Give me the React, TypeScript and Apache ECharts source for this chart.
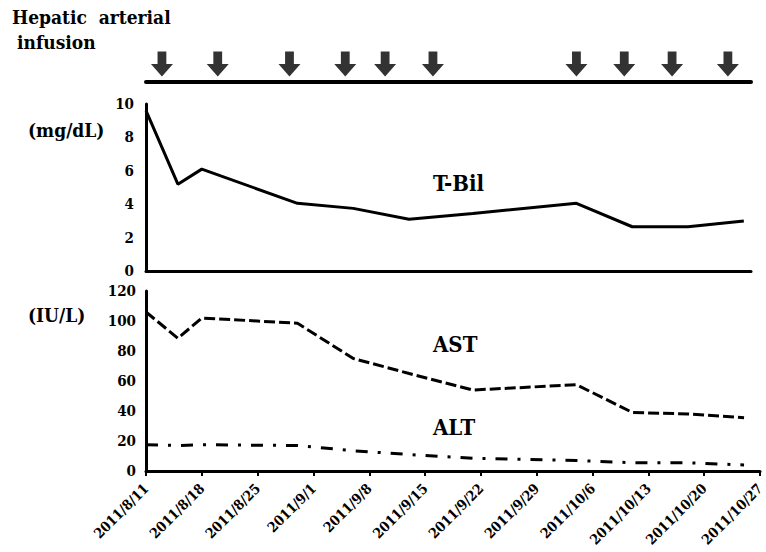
import React, { useEffect, useRef } from "react";
import * as echarts from "echarts";

// ---- data ----
const startDate = "2011/8/11";
const tickLabels = [
  "2011/8/11", "2011/8/18", "2011/8/25", "2011/9/1", "2011/9/8", "2011/9/15",
  "2011/9/22", "2011/9/29", "2011/10/6", "2011/10/13", "2011/10/20", "2011/10/27",
];
const measureDates = [
  "2011/8/11", "2011/8/15", "2011/8/18", "2011/8/30", "2011/9/6", "2011/9/13",
  "2011/9/21", "2011/10/4", "2011/10/11", "2011/10/18", "2011/10/25",
];
const tBil = [9.6, 5.2, 6.1, 4.05, 3.75, 3.1, 3.45, 4.05, 2.65, 2.65, 3.0];
const ast = [106, 88.5, 102, 98.5, 75, 65, 54, 57.5, 39, 38, 35.5];
const alt = [17.5, 17, 17.5, 17, 13.5, 11, 8.5, 7, 5.5, 5.5, 4];
const infusionDates = [
  "2011/8/13", "2011/8/20", "2011/8/29", "2011/9/5", "2011/9/10", "2011/9/16",
  "2011/10/4", "2011/10/10", "2011/10/16", "2011/10/23",
];

function dayOf(s: string): number {
  const [y, m, d] = s.split("/").map(Number);
  const [y0, m0, d0] = startDate.split("/").map(Number);
  return Math.round((Date.UTC(y, m - 1, d) - Date.UTC(y0, m0 - 1, d0)) / 86400000);
}

const FONT = "DejaVu Serif Condensed";

export default function App() {
  const ref = useRef<HTMLDivElement>(null);
  useEffect(() => {
    if (!ref.current) return;
    const chart = echarts.init(ref.current, undefined, { renderer: "svg" });
    const pairs = (vals: number[]) => measureDates.map((d, i) => [dayOf(d), vals[i]]);
    const black = "#000";
    const labelStyle = { color: black, fontFamily: FONT, fontWeight: "bold" as const, fontSize: 15 };
    const topMax = 75.9;
    const txt = (text: string, left: number, top: number, size: number) => ({
      type: "text", left, top,
      style: { text, fill: black, fontFamily: FONT, fontWeight: "bold", fontSize: size },
    });
    chart.setOption({
      animation: false,
      backgroundColor: "#fff",
      grid: [
        { left: 146, top: 104, width: 605, height: 167, outerBoundsMode: "none", containLabel: false },
        { left: 146, top: 291, width: 614, height: 180, outerBoundsMode: "none", containLabel: false },
        { left: 146, top: 46, width: 605, height: 36, outerBoundsMode: "none", containLabel: false },
      ],
      xAxis: [
        {
          gridIndex: 0, type: "value", min: 0, max: topMax,
          axisLine: { show: true, lineStyle: { color: black, width: 3 } },
          axisTick: { show: false }, axisLabel: { show: false }, splitLine: { show: false },
        },
        {
          gridIndex: 1, type: "value", min: 0, max: 77, interval: 7,
          axisLine: { show: true, lineStyle: { color: black, width: 3 } },
          axisTick: { show: true, length: 5, lineStyle: { color: black, width: 2 } },
          axisLabel: {
            ...labelStyle, fontSize: 14, rotate: 45, margin: 15,
            formatter: (v: number) => tickLabels[Math.round(v / 7)] ?? "",
          },
          splitLine: { show: false },
        },
        {
          gridIndex: 2, type: "value", min: 0, max: topMax,
          axisLine: { show: true, lineStyle: { color: black, width: 4 } },
          axisTick: { show: false }, axisLabel: { show: false }, splitLine: { show: false },
        },
      ],
      yAxis: [
        {
          gridIndex: 0, type: "value", min: 0, max: 10, interval: 2,
          axisLine: { show: true, lineStyle: { color: black, width: 3 } },
          axisTick: { show: false }, splitLine: { show: false },
          axisLabel: { ...labelStyle, margin: 12 },
        },
        {
          gridIndex: 1, type: "value", min: 0, max: 120, interval: 20,
          axisLine: { show: true, lineStyle: { color: black, width: 3 } },
          axisTick: { show: false }, splitLine: { show: false },
          axisLabel: { ...labelStyle, margin: 10 },
        },
        { gridIndex: 2, type: "value", min: 0, max: 1, show: false, splitLine: { show: false } },
      ],
      series: [
        {
          name: "T-Bil", type: "line", xAxisIndex: 0, yAxisIndex: 0, data: pairs(tBil),
          symbol: "none", lineStyle: { color: black, width: 3 },
        },
        {
          name: "AST", type: "line", xAxisIndex: 1, yAxisIndex: 1, data: pairs(ast),
          symbol: "none", lineStyle: { color: black, width: 3, type: [11, 4] },
        },
        {
          name: "ALT", type: "line", xAxisIndex: 1, yAxisIndex: 1, data: pairs(alt),
          symbol: "none", lineStyle: { color: black, width: 3, type: [12, 10, 3, 10] },
        },
        {
          name: "Hepatic arterial infusion", type: "scatter", xAxisIndex: 2, yAxisIndex: 2,
          data: infusionDates.map((d) => [dayOf(d), 0.5]),
          symbol: "path://M3,0H7V5.5H10L5,11L0,5.5H3Z", symbolSize: [22, 25],
          itemStyle: { color: black },
        },
      ],
      graphic: [
        txt("Hepatic  arterial", 12, 7, 19),
        txt("infusion", 17, 32, 19),
        txt("(mg/dL)", 28, 120, 19),
        txt("(IU/L)", 28, 305, 19),
        txt("T-Bil", 433, 172, 22),
        txt("AST", 433, 333, 22),
        txt("ALT", 433, 416, 22),
      ],
    });
    return () => chart.dispose();
  }, []);
  return (
    <div
      ref={ref}
      style={{ position: "fixed", left: 0, top: 0, width: 766, height: 552, background: "#fff" }}
    />
  );
}
